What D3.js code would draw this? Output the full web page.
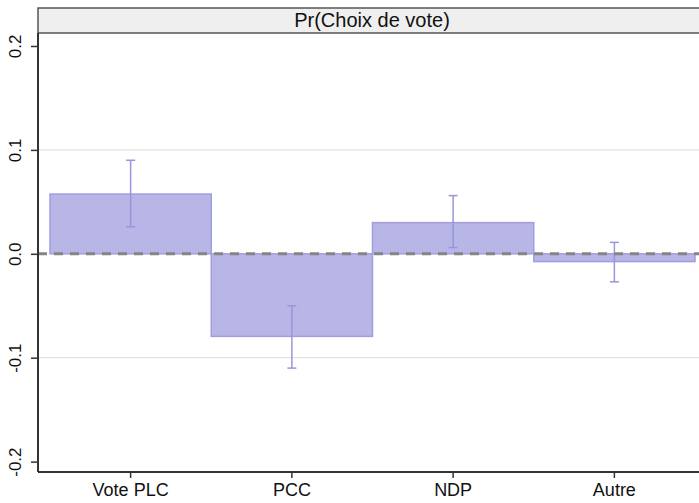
<!DOCTYPE html>
<html>
<head>
<meta charset="utf-8">
<script src="https://cdn.jsdelivr.net/npm/d3@7"></script>
<style>
  body { margin: 0; background: #fff; }
  svg { display: block; font-family: "Liberation Sans", Arial, sans-serif; }
</style>
</head>
<body>
<div id="chart"></div>
<script>
// data
const categories = ["Vote PLC", "PCC", "NDP", "Autre"];
const estimates = [0.0575, -0.0795, 0.030, -0.0075];
const ciLow = [0.026, -0.110, 0.006, -0.027];
const ciHigh = [0.090, -0.050, 0.056, 0.011];
const yTicks = [-0.2, -0.1, 0, 0.1, 0.2];
const gridTicks = [-0.1, 0.1];
const title = "Pr(Choix de vote)";

const width = 699, height = 503;
const plotLeft = 38, plotRight = 699, plotTop = 33, plotBottom = 472;

const svg = d3.select("#chart").append("svg")
    .attr("width", width)
    .attr("height", height);

const x = d3.scaleBand()
    .domain(categories)
    .range([50, 695])
    .padding(0);

const y = d3.scaleLinear()
    .domain([-0.21, 0.2125])
    .range([plotBottom, plotTop]);

// header strip
svg.append("rect")
    .attr("x", plotLeft).attr("y", 8)
    .attr("width", plotRight - plotLeft + 2).attr("height", plotTop - 8)
    .attr("fill", "#efefef")
    .attr("stroke", "#555")
    .attr("stroke-width", 1.5);

svg.append("text")
    .attr("x", 372).attr("y", 27)
    .attr("text-anchor", "middle")
    .attr("font-size", 20)
    .attr("fill", "#111")
    .text(title);

// grid lines
svg.append("g")
  .selectAll("line")
  .data(gridTicks)
  .enter().append("line")
    .attr("x1", plotLeft).attr("x2", plotRight)
    .attr("y1", d => y(d)).attr("y2", d => y(d))
    .attr("stroke", "#e3e3e3")
    .attr("stroke-width", 1.2);

// bars
svg.append("g")
  .selectAll("rect")
  .data(categories)
  .enter().append("rect")
    .attr("x", d => x(d))
    .attr("width", x.bandwidth())
    .attr("y", (d, i) => y(Math.max(0, estimates[i])))
    .attr("height", (d, i) => Math.abs(y(estimates[i]) - y(0)))
    .attr("fill", "#b8b6e6")
    .attr("stroke", "#a19de0")
    .attr("stroke-width", 1.5);

// error bars
const eb = svg.append("g")
    .attr("stroke", "#9a95dc")
    .attr("stroke-width", 1.5)
  .selectAll("g")
  .data(categories)
  .enter().append("g");

eb.append("line")
    .attr("x1", d => x(d) + x.bandwidth() / 2)
    .attr("x2", d => x(d) + x.bandwidth() / 2)
    .attr("y1", (d, i) => y(ciLow[i]))
    .attr("y2", (d, i) => y(ciHigh[i]));
eb.selectAll(".cap")
  .data((d, i) => [ciLow[i], ciHigh[i]].map(v => ({c: d, v})))
  .enter().append("line")
    .attr("x1", d => x(d.c) + x.bandwidth() / 2 - 4.5)
    .attr("x2", d => x(d.c) + x.bandwidth() / 2 + 4.5)
    .attr("y1", d => y(d.v))
    .attr("y2", d => y(d.v));

// zero reference line
svg.append("line")
    .attr("x1", plotLeft).attr("x2", plotRight)
    .attr("y1", y(0)).attr("y2", y(0))
    .attr("stroke", "#858585")
    .attr("stroke-width", 3)
    .attr("stroke-dasharray", "9,7");

// y axis (plain hyphen for negatives, like the original)
const fmt = d => d3.format(".1f")(d).replace("\u2212", "-");
const yAxis = svg.append("g")
    .attr("transform", `translate(${plotLeft},0)`)
    .call(d3.axisLeft(y).tickValues(yTicks).tickSize(7).tickFormat(fmt));
yAxis.select(".domain").attr("d", `M0,${plotTop}V${plotBottom}`).attr("stroke", "#333").attr("stroke-width", 2);
yAxis.selectAll(".tick line").attr("stroke", "#333").attr("stroke-width", 1.5);
yAxis.selectAll(".tick text")
    .attr("font-size", 17)
    .attr("fill", "#111")
    .attr("text-anchor", "middle")
    .attr("transform", "rotate(-90)")
    .attr("x", 0)
    .attr("y", -17)
    .attr("dy", 0);

// x axis
const xAxis = svg.append("g")
    .attr("transform", `translate(0,${plotBottom})`)
    .call(d3.axisBottom(x).tickSize(6).tickSizeOuter(0));
xAxis.select(".domain").attr("d", `M${plotLeft},0H${plotRight}`).attr("stroke", "#333").attr("stroke-width", 2);
xAxis.selectAll(".tick line").attr("stroke", "#333").attr("stroke-width", 1.5);
xAxis.selectAll(".tick text")
    .attr("font-size", 18)
    .attr("fill", "#111")
    .attr("y", 8)
    .attr("dy", "0.9em");
</script>
</body>
</html>
